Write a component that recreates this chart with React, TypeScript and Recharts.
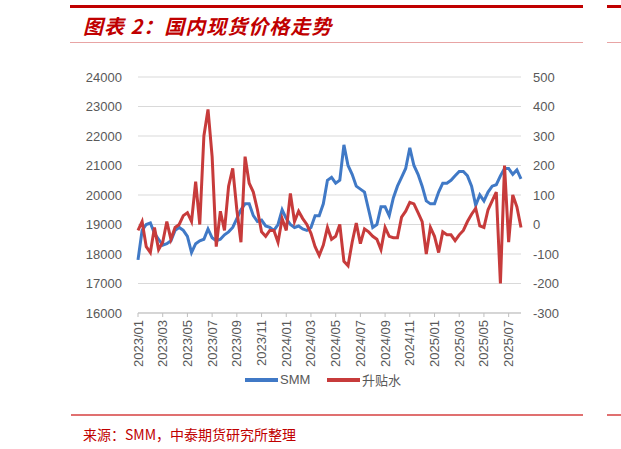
import React from 'react'
import { LineChart, Line, XAxis, YAxis, CartesianGrid } from 'recharts'

// three readings per month, 2023/01 to 2025/08
const dates = [
  '2023/01/01', '2023/01/11', '2023/01/21', '2023/02/01', '2023/02/11', '2023/02/21',
  '2023/03/01', '2023/03/11', '2023/03/21', '2023/04/01', '2023/04/11', '2023/04/21',
  '2023/05/01', '2023/05/11', '2023/05/21', '2023/06/01', '2023/06/11', '2023/06/21',
  '2023/07/01', '2023/07/11', '2023/07/21', '2023/08/01', '2023/08/11', '2023/08/21',
  '2023/09/01', '2023/09/11', '2023/09/21', '2023/10/01', '2023/10/11', '2023/10/21',
  '2023/11/01', '2023/11/11', '2023/11/21', '2023/12/01', '2023/12/11', '2023/12/21',
  '2024/01/01', '2024/01/11', '2024/01/21', '2024/02/01', '2024/02/11', '2024/02/21',
  '2024/03/01', '2024/03/11', '2024/03/21', '2024/04/01', '2024/04/11', '2024/04/21',
  '2024/05/01', '2024/05/11', '2024/05/21', '2024/06/01', '2024/06/11', '2024/06/21',
  '2024/07/01', '2024/07/11', '2024/07/21', '2024/08/01', '2024/08/11', '2024/08/21',
  '2024/09/01', '2024/09/11', '2024/09/21', '2024/10/01', '2024/10/11', '2024/10/21',
  '2024/11/01', '2024/11/11', '2024/11/21', '2024/12/01', '2024/12/11', '2024/12/21',
  '2025/01/01', '2025/01/11', '2025/01/21', '2025/02/01', '2025/02/11', '2025/02/21',
  '2025/03/01', '2025/03/11', '2025/03/21', '2025/04/01', '2025/04/11', '2025/04/21',
  '2025/05/01', '2025/05/11', '2025/05/21', '2025/06/01', '2025/06/11', '2025/06/21',
  '2025/07/01', '2025/07/11', '2025/07/21', '2025/08/01',
]

const smm = [
  17800, 18800, 19000, 19050, 18700, 18500, 18300, 18350, 18450, 18800, 18900, 18800,
  18600, 18050, 18350, 18450, 18500, 18850, 18550, 18450, 18500, 18650, 18750, 18900,
  19200, 19500, 19700, 19700, 19300, 19100, 19150, 18950, 18900, 18800, 19000, 19500,
  19200, 19000, 18900, 18950, 18850, 18800, 18900, 19300, 19300, 19700, 20500, 20600,
  20400, 20500, 21700, 21000, 20700, 20300, 20200, 20100, 19500, 18900, 19000, 19600,
  19600, 19300, 19900, 20300, 20600, 20900, 21600, 21000, 20700, 20300, 19800, 19700,
  19700, 20100, 20400, 20400, 20500, 20650, 20800, 20800, 20650, 20300, 19650, 20000,
  19800, 20100, 20300, 20350, 20650, 20900, 20900, 20700, 20850, 20550,
]

const premium = [
  -20, 10, -75, -95, -10, -85, -60, 10, -50, -10, 0, 30,
  40, 10, 145, 0, 300, 390, 230, -75, 45, -20, 130, 190,
  50, -60, 230, 140, 110, 50, -25, -40, -20, -20, -60, 20,
  -20, 105, 10, 45, 20, 0, -30, -75, -105, -70, -10, -50,
  -40, 0, -125, -140, -60, 5, -65, -15, -25, -40, -50, -85,
  -10, -40, -45, -45, 25, 45, 75, 70, 40, 10, -100, -10,
  -40, -95, -25, -35, -35, -55, -35, -20, 10, 35, 55, -5,
  -10, 50, 80, 110, -200, 200, -60, 100, 60, -10,
]

const leftTicks = [16000, 17000, 18000, 19000, 20000, 21000, 22000, 23000, 24000]
const rightTicks = [-300, -200, -100, 0, 100, 200, 300, 400, 500]

const data = dates.map((d, i) => ({ date: d, smm: smm[i], premium: premium[i] }))

const BLUE = '#4079c6'
const RED = '#c73b3b'
const DARK_RED = '#c00000'
const AXIS_FONT = '"Liberation Sans", Arial, sans-serif'
const CJK_FONT = '"Noto Sans CJK SC", sans-serif'

function DateTick(props: any) {
  const { x, payload } = props
  return (
    <text
      transform={`translate(${x},320) rotate(-90)`}
      textAnchor="end"
      dominantBaseline="central"
      fontSize={13}
      fontFamily={AXIS_FONT}
      fill="#595959"
    >
      {String(payload.value).slice(0, 7)}
    </text>
  )
}

export default function App() {
  return (
    <div style={{ position: 'absolute', left: 0, top: 0, width: 621, height: 449, background: '#fff', overflow: 'hidden' }}>
      {/* header rules and title */}
      <div style={{ position: 'absolute', left: 70, top: 5, width: 513, height: 3, background: DARK_RED }} />
      <div style={{ position: 'absolute', left: 607, top: 5, width: 14, height: 3, background: DARK_RED }} />
      <div
        style={{
          position: 'absolute', left: 83, top: 11, fontFamily: CJK_FONT, fontSize: 20,
          fontWeight: 700, fontStyle: 'italic', color: DARK_RED, whiteSpace: 'nowrap', letterSpacing: 1,
        }}
      >
        图表 2：国内现货价格走势
      </div>
      <div style={{ position: 'absolute', left: 70, top: 42, width: 513, height: 1, background: '#e8a4a4' }} />
      <div style={{ position: 'absolute', left: 607, top: 42, width: 14, height: 1, background: '#e8a4a4' }} />

      <div style={{ position: 'absolute', left: 0, top: 0 }}>
        <LineChart width={621} height={449} data={data} margin={{ top: 77, right: 55, bottom: 80, left: 78 }}>
          <CartesianGrid vertical={false} stroke="#d9d9d9" yAxisId="left" />
          <XAxis
            dataKey="date"
            interval={5}
            height={56}
            tick={<DateTick />}
            tickLine={{ stroke: '#bfbfbf' }}
            tickSize={4}
            axisLine={{ stroke: '#bfbfbf' }}
          />
          <YAxis
            yAxisId="left"
            orientation="left"
            width={60}
            domain={[16000, 24000]}
            ticks={leftTicks}
            axisLine={false}
            tickLine={false}
            tickMargin={10}
            tick={{ fontSize: 13, fill: '#595959', fontFamily: AXIS_FONT }}
          />
          <YAxis
            yAxisId="right"
            orientation="right"
            width={45}
            domain={[-300, 500]}
            ticks={rightTicks}
            axisLine={false}
            tickLine={false}
            tickMargin={6}
            tick={{ fontSize: 13, fill: '#595959', fontFamily: AXIS_FONT }}
          />
          <Line yAxisId="left" type="linear" dataKey="smm" stroke={BLUE} strokeWidth={3} dot={false} isAnimationActive={false} />
          <Line yAxisId="right" type="linear" dataKey="premium" stroke={RED} strokeWidth={3} dot={false} isAnimationActive={false} />
        </LineChart>
      </div>

      {/* legend */}
      <div style={{ position: 'absolute', left: 245, top: 378, width: 33, height: 4, background: BLUE }} />
      <div style={{ position: 'absolute', left: 280, top: 371, fontFamily: AXIS_FONT, fontSize: 13, color: '#595959', lineHeight: '18px' }}>SMM</div>
      <div style={{ position: 'absolute', left: 327, top: 378, width: 33, height: 4, background: RED }} />
      <div style={{ position: 'absolute', left: 362, top: 371, fontFamily: CJK_FONT, fontSize: 13, color: '#595959', lineHeight: '18px' }}>升贴水</div>

      {/* footer */}
      <div style={{ position: 'absolute', left: 71, top: 414, width: 512, height: 2, background: '#e07070' }} />
      <div style={{ position: 'absolute', left: 607, top: 414, width: 14, height: 2, background: '#e07070' }} />
      <div
        style={{
          position: 'absolute', left: 83, top: 424, fontFamily: CJK_FONT, fontSize: 14,
          color: DARK_RED, whiteSpace: 'nowrap', lineHeight: '20px',
        }}
      >
        来源：SMM，中泰期货研究所整理
      </div>
    </div>
  )
}
